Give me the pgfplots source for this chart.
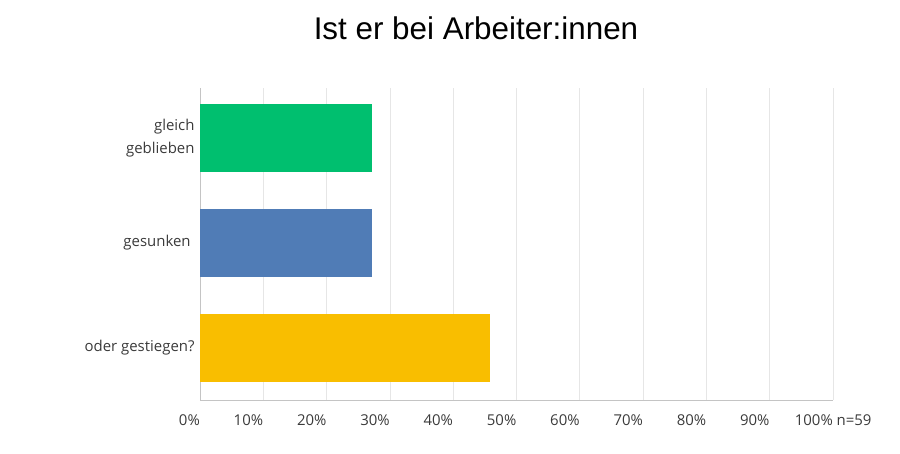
\documentclass[border=0pt]{standalone}
\usepackage{fontspec}
\setmainfont{Open Sans}
\newfontfamily\titlefont{Liberation Sans}
\usepackage{pgfplots}
\pgfplotsset{compat=1.18}
\definecolor{cgreen}{HTML}{00BF6F}
\definecolor{cblue}{HTML}{507CB6}
\definecolor{cyellow}{HTML}{F9BE00}
\definecolor{cgrid}{HTML}{E6E6E6}
\definecolor{caxis}{HTML}{C4C4C4}
\definecolor{ctext}{HTML}{3A3A3A}
\begin{document}
\begin{tikzpicture}[x=1bp,y=1bp]
\path[use as bounding box] (0,0) rectangle (900,454);
\node[font=\titlefont\fontsize{31.5}{34}\selectfont, text=black] at (476,426) {Ist er bei Arbeiter:innen};
\begin{axis}[
  at={(200bp,54bp)}, anchor=south west,
  scale only axis, width=633bp, height=312bp,
  xbar, bar width=0.65, bar shift=0pt,
  xmin=0, xmax=100, ymin=-0.5, ymax=2.48,
  xtick={0,10,...,100},
  xticklabels={0\%,10\%,20\%,30\%,40\%,50\%,60\%,70\%,80\%,90\%,100\%\rlap{ n=59}},
  ytick={0,1,2},
  yticklabels={oder gestiegen?,gesunken\ ,{gleich\\geblieben}},
  yticklabel style={align=right, font=\fontsize{15}{23.5}\selectfont, text=ctext, xshift=-2bp},
  xticklabel style={font=\fontsize{15}{17}\selectfont, text=ctext, anchor=north east, inner xsep=0pt},
  /pgf/number format/assume math mode=true,
  xmajorgrids, grid style={cgrid, line width=0.8bp},
  major tick length=0pt,
  axis x line*=bottom, axis y line*=left,
  axis line style={caxis, line width=0.8bp},
  x axis line style={-}, y axis line style={-},
  enlargelimits=false,
  clip=false,
]
\pgfplotsset{xticklabel style={yshift=-11bp}}
\addplot[fill=cgreen, draw=none] coordinates {(27.12,2)};
\addplot[fill=cblue, draw=none] coordinates {(27.12,1)};
\addplot[fill=cyellow, draw=none] coordinates {(45.76,0)};
\end{axis}
\end{tikzpicture}
\end{document}
